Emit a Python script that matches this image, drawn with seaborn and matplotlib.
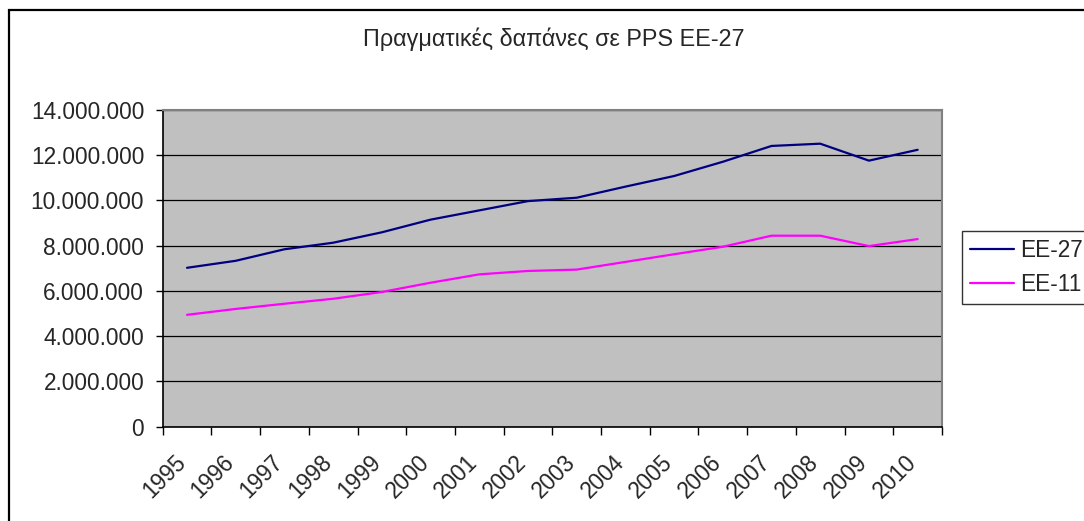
import numpy as np
import pandas as pd
import matplotlib
matplotlib.use("Agg")
import matplotlib.pyplot as plt
import matplotlib.ticker as mticker
import matplotlib.transforms as mtransforms
from matplotlib.patches import Rectangle
import seaborn as sns

years = [1995, 1996, 1997, 1998, 1999, 2000, 2001, 2002, 2003, 2004, 2005, 2006, 2007, 2008, 2009, 2010]
ee27 = [7020000, 7330000, 7840000, 8130000, 8590000, 9150000, 9560000, 9970000, 10120000,
        10610000, 11080000, 11710000, 12410000, 12510000, 11760000, 12240000]
ee11 = [4940000, 5200000, 5430000, 5650000, 5950000, 6360000, 6730000, 6880000, 6940000,
        7280000, 7620000, 7950000, 8440000, 8440000, 7980000, 8290000]
series_names = ["ΕΕ-27", "ΕΕ-11"]
title = "Πραγματικές δαπάνες σε PPS ΕΕ-27"

df = pd.DataFrame({
    "year": years * 2,
    "value": ee27 + ee11,
    "series": [series_names[0]] * len(years) + [series_names[1]] * len(years),
})

sns.set_theme(style="white")
plt.rcParams['font.family'] = ['Liberation Sans', 'DejaVu Sans']

W, H = 1084, 521
L, R, T, B = 162.7, 942.0, 110.0, 426.5
fig = plt.figure(figsize=(W / 100, H / 100), dpi=100)
fig.patch.set_facecolor("white")
ax = fig.add_axes([L / W, 1 - B / H, (R - L) / W, (B - T) / H])
ax.set_facecolor("#C0C0C0")

sns.lineplot(data=df, x="year", y="value", hue="series",
             palette={series_names[0]: "#000080", series_names[1]: "#FF00FF"},
             linewidth=1.6, ax=ax, legend=True)

ax.set_xlim(years[0] - 0.5, years[-1] + 0.5)
ax.set_ylim(0, 14000000)
ax.yaxis.set_major_locator(mticker.MultipleLocator(2000000))
ax.yaxis.set_major_formatter(mticker.FuncFormatter(lambda v, p: f"{int(v):,}".replace(",", ".")))
ax.grid(axis="y", color="black", linewidth=0.9)
ax.set_axisbelow(True)

ax.set_xticks([y - 0.5 for y in years] + [years[-1] + 0.5])
ax.set_xticklabels([])
ax.set_xticks(years, minor=True)
ax.set_xticklabels([str(y) for y in years], minor=True, rotation=45, ha="right", va="center",
                   rotation_mode="anchor", fontsize=16.3)
ax.tick_params(axis="x", which="major", direction="out", length=5.8, width=1, color="black", bottom=True)
ax.tick_params(axis="x", which="minor", length=0, pad=23)
ax.tick_params(axis="y", direction="out", length=5.3, width=1, color="black", left=True,
               labelsize=16.3, pad=8)
shift = mtransforms.ScaledTranslation(-5 / 100, 0, fig.dpi_scale_trans)
for lab in ax.xaxis.get_minorticklabels():
    lab.set_transform(lab.get_transform() + shift)

ax.set_xlabel("")
ax.set_ylabel("")
for s in ["left", "bottom"]:
    ax.spines[s].set_color("black")
    ax.spines[s].set_linewidth(1.2)
for s in ["top", "right"]:
    ax.spines[s].set_color("#808080")
    ax.spines[s].set_linewidth(1.5)

handles, labels = ax.get_legend_handles_labels()
ax.legend(handles, labels, loc="upper left", bbox_to_anchor=(961.7 / W, 1 - 230.7 / H),
          bbox_transform=fig.transFigure, frameon=True, fancybox=False, edgecolor="black",
          fontsize=16.3, handlelength=1.95, handletextpad=0.27, borderpad=0.35, labelspacing=0.5,
          borderaxespad=0)
ax.get_legend().get_frame().set_linewidth(1.0)

fig.text(554 / W, 1 - 39 / H, title, ha="center", va="center", fontsize=16.8)

fig.patches.append(Rectangle((8.5 / W, -0.1), 1.2, 1 - 10 / H + 0.1, transform=fig.transFigure,
                             fill=False, edgecolor="black", linewidth=1.6, zorder=10))

fig.savefig("out.png", dpi=100)
